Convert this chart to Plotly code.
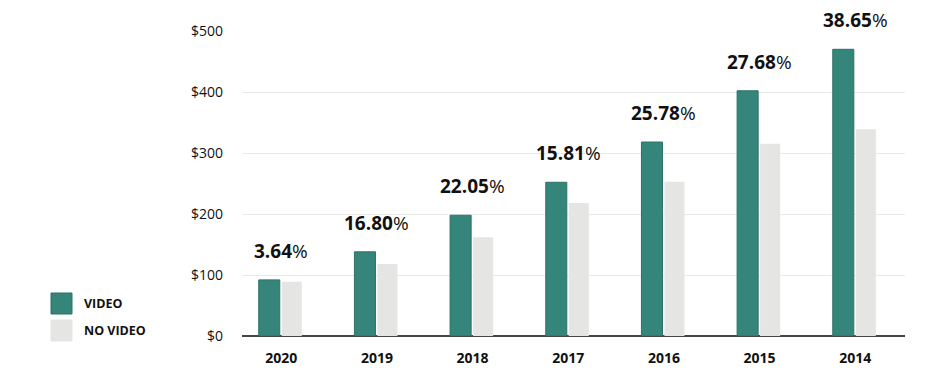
import plotly.graph_objects as go

years = ["2020", "2019", "2018", "2017", "2016", "2015", "2014"]
video = [92, 138, 198, 252, 318, 402, 470]
no_video = [89, 118, 162, 218, 253, 315, 339]
pct_labels = ["3.64", "16.80", "22.05", "15.81", "25.78", "27.68", "38.65"]
y_ticks = [0, 100, 200, 300, 400, 500]
y_tick_text = ["$0", "$100", "$200", "$300", "$400", "$500"]

VIDEO_C = "#35857a"
NOVIDEO_C = "#e5e5e3"
FONT = "Open Sans"

# page body has an 8px default margin: compensate
OFF = 8
W, H = 948, 373
ml, mt = 242 - OFF, 31 - OFF
pw, ph = 663, 305
mr, mb = W - ml - pw, H - mt - ph

fig = go.Figure()
fig.add_trace(go.Bar(x=years, y=video, name="VIDEO", width=0.22, offset=-0.235,
                     marker=dict(color=VIDEO_C, line=dict(color="#2c7268", width=1))))
fig.add_trace(go.Bar(x=years, y=no_video, name="NO VIDEO", width=0.21, offset=0.005,
                     marker=dict(color=NOVIDEO_C, line=dict(width=0))))

for i, (v, p) in enumerate(zip(video, pct_labels)):
    fig.add_annotation(x=i, y=v, text=f"<b>{p}</b>%", showarrow=False,
                       yshift=29, font=dict(family=FONT, size=19, color="#111"),
                       xref="x", yref="y")

def px_x(px):
    return (px - OFF - ml) / pw
def px_y(py):
    return 1 - (py - OFF - mt) / ph

leg = [("VIDEO", VIDEO_C, 293), ("NO VIDEO", NOVIDEO_C, 320)]
for label, col, top in leg:
    fig.add_shape(type="rect", xref="paper", yref="paper",
                  x0=px_x(51), x1=px_x(72), y0=px_y(top + 21), y1=px_y(top),
                  fillcolor=col, line=dict(color="#2c7268" if col == VIDEO_C else col, width=1))
    fig.add_annotation(xref="paper", yref="paper", x=px_x(82), y=px_y(top + 10.5),
                       text=f"<b>{label}</b>", showarrow=False, xanchor="left", yanchor="middle",
                       font=dict(family=FONT, size=12.5, color="#111"))

fig.update_layout(
    width=W, height=H,
    margin=dict(l=ml, r=mr, t=mt, b=mb, autoexpand=False),
    plot_bgcolor="white", paper_bgcolor="white",
    showlegend=False,
    font=dict(family=FONT, color="#111"),
    xaxis=dict(type="category", range=[-0.41, 6.52], showgrid=False, showline=False, zeroline=False,
               tickfont=dict(family=FONT, size=14, color="#111"),
               tickvals=years, ticktext=[f"<b>{y}</b>" for y in years],
               ticks="", ticklabelstandoff=12),
    yaxis=dict(range=[0, 500], tickvals=y_ticks, ticktext=y_tick_text,
               showgrid=True, gridcolor="#e9e9e9", gridwidth=1,
               zeroline=True, zerolinecolor="#444", zerolinewidth=2,
               tickfont=dict(family=FONT, size=14, color="#111"),
               ticks="", ticklabelstandoff=18),
)
fig.update_traces(cliponaxis=False)
fig.write_html("out.html")
